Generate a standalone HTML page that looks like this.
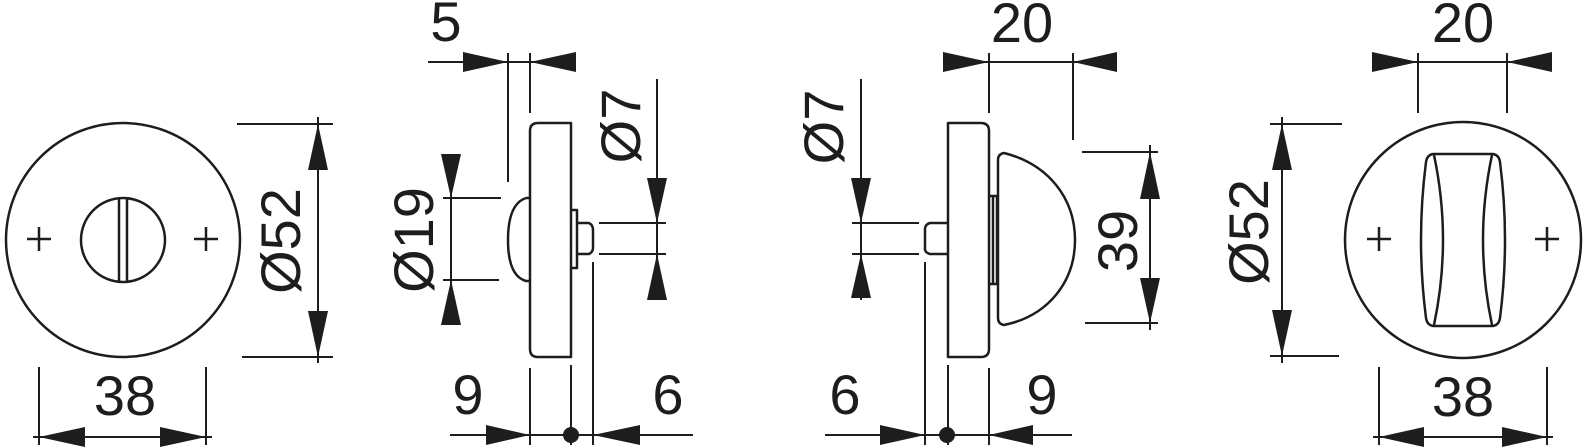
<!DOCTYPE html>
<html><head><meta charset="utf-8"><style>
html,body{margin:0;padding:0;background:#fff}
svg{display:block}
text{font-family:"Liberation Sans",Arial,sans-serif;font-size:56px;fill:#1d1d1b}
</style></head><body>
<svg width="1585" height="448" viewBox="0 0 1585 448" xmlns="http://www.w3.org/2000/svg">
<g fill="none" stroke="#1d1d1b" stroke-width="2.5" stroke-linejoin="round">
<!-- VIEW 1 -->
<circle cx="123" cy="240" r="117"/>
<circle cx="123" cy="240" r="42"/>
<line x1="119" y1="198" x2="119" y2="282"/>
<line x1="127" y1="198" x2="127" y2="282"/>
<path d="M27 239H51M39 227V251M194 239H218M206 227V251"/>
<path d="M237 124H333M242 357H333M318 117V363" stroke-width="2"/>
<path d="M39 367V445M206 367V445M33 437H212" stroke-width="2"/>

<!-- VIEW 2 -->
<path d="M538 123H571V357H538Q530 357 530 349V131Q530 123 538 123Z"/>
<path d="M530 198H526Q508 204 508 240Q508 276 526 281H530"/>
<path d="M571 210H577V223M577 254V268H571"/>
<path d="M577 223H589Q593 225 593 230V248Q593 252 589 254H577Z"/>
<g stroke-width="2">
<path d="M443 198H501M443 280H499M451 154V325"/>
<path d="M428 62H575M508 53V182M530 53V113"/>
<path d="M657 79V300M599 223H666M599 254H666"/>
<path d="M450 435H693M530 368V445M571 365V445M593 262V445"/>
</g>

<!-- VIEW 3 -->
<path d="M948 123H981Q989 123 989 131V349Q989 357 981 357H948Z"/>
<path d="M989 196H997V284H989M993 196V284"/>
<path d="M1004 153C1048 164 1075 198 1075 240C1075 282 1048 316 1004 325Q998 324 998 318V160Q998 154 1004 153Z"/>
<path d="M948 223H930Q926 224 925 228V250Q926 253 930 254H948"/>
<g stroke-width="2">
<path d="M943 62H1117M989 53V113M1073 53V140"/>
<path d="M1082 152H1158M1085 323H1158M1150 145V330"/>
<path d="M861 79V300M852 223H919M852 254H919"/>
<path d="M825 435H1072M925 262V445M948 365V445M989 368V445"/>
</g>

<!-- VIEW 4 -->
<circle cx="1463" cy="240" r="118"/>
<path d="M1367 239H1391M1379 227V251M1535 239H1559M1547 227V251"/>
<path d="M1433 154H1493Q1499 155 1500 162Q1510 240 1500 318Q1499 325 1493 326H1433Q1427 325 1426 318Q1416 240 1426 162Q1427 155 1433 154Z"/>
<path d="M1434 155Q1452 240 1434 325M1492 155Q1474 240 1492 325"/>
<g stroke-width="2">
<path d="M1372 62H1552M1418 53V113M1507 53V113"/>
<path d="M1270 124H1342M1270 356H1339M1282 117V363"/>
<path d="M1379 367V445M1547 367V445M1373 437H1553"/>
</g>
</g>

<g fill="#1d1d1b">
<polygon points="318,124 308,170 328,170"/>
<polygon points="318,357 308,311 328,311"/>
<polygon points="39,437 85,427 85,447"/>
<polygon points="206,437 160,427 160,447"/>
<polygon points="508,62 463,52 463,72"/>
<polygon points="530,62 576,52 576,72"/>
<polygon points="451,198 441,154 461,154"/>
<polygon points="451,280 441,325 461,325"/>
<polygon points="657,223 647,178 667,178"/>
<polygon points="657,254 647,300 667,300"/>
<polygon points="530,435 486,425 486,445"/>
<polygon points="593,435 640,425 640,445"/>
<circle cx="571" cy="435" r="8"/>
<polygon points="989,62 943,52 943,72"/>
<polygon points="1073,62 1117,52 1117,72"/>
<polygon points="1150,152 1140,199 1160,199"/>
<polygon points="1150,323 1140,278 1160,278"/>
<polygon points="861,223 851,178 871,178"/>
<polygon points="861,254 851,298 871,298"/>
<polygon points="925,435 880,425 880,445"/>
<polygon points="989,435 1033,425 1033,445"/>
<circle cx="947" cy="435" r="8"/>
<polygon points="1418,62 1372,52 1372,72"/>
<polygon points="1507,62 1552,52 1552,72"/>
<polygon points="1282,124 1272,170 1292,170"/>
<polygon points="1282,356 1272,310 1292,310"/>
<polygon points="1379,437 1424,427 1424,447"/>
<polygon points="1547,437 1502,427 1502,447"/>
</g>

<text x="125" y="415" text-anchor="middle">38</text>
<text transform="translate(300,241) rotate(-90)" text-anchor="middle">Ø52</text>
<text x="446" y="41" text-anchor="middle">5</text>
<text transform="translate(433,240) rotate(-90)" text-anchor="middle">Ø19</text>
<text transform="translate(640,126) rotate(-90)" text-anchor="middle">Ø7</text>
<text x="468" y="414" text-anchor="middle">9</text>
<text x="668" y="414" text-anchor="middle">6</text>
<text x="1022" y="42" text-anchor="middle">20</text>
<text transform="translate(843,127) rotate(-90)" text-anchor="middle">Ø7</text>
<text transform="translate(1137,241) rotate(-90)" text-anchor="middle">39</text>
<text x="845" y="414" text-anchor="middle">6</text>
<text x="1042" y="414" text-anchor="middle">9</text>
<text x="1463" y="42" text-anchor="middle">20</text>
<text transform="translate(1268,232) rotate(-90)" text-anchor="middle">Ø52</text>
<text x="1463" y="416" text-anchor="middle">38</text>
</svg>
</body></html>
